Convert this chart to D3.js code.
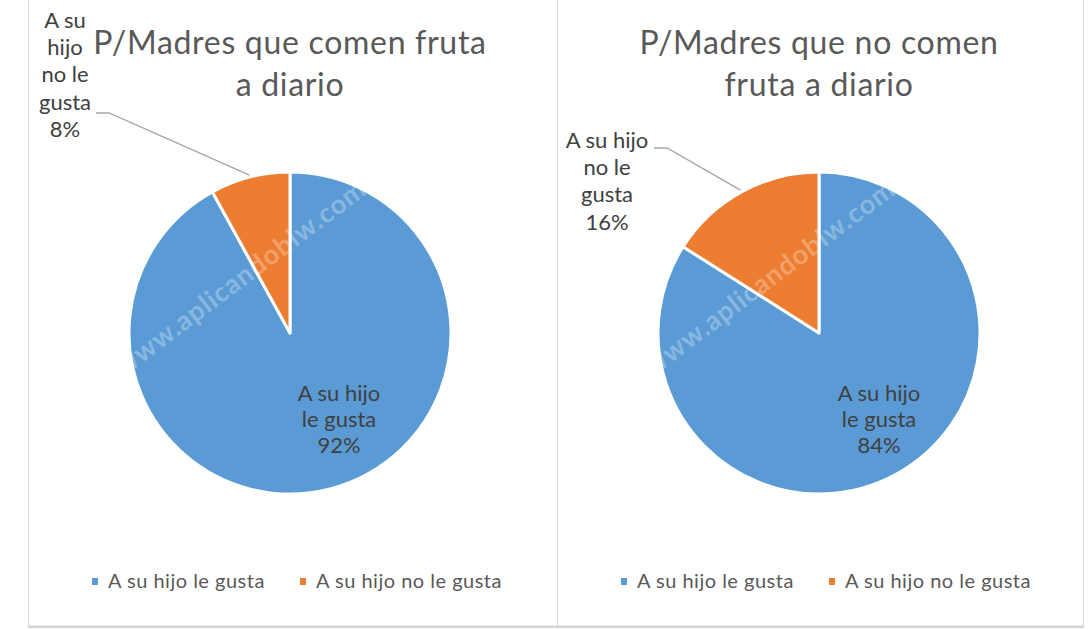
<!DOCTYPE html>
<html>
<head>
<meta charset="utf-8">
<script src="https://cdn.jsdelivr.net/npm/d3@7"></script>
<style>
  body { margin: 0; background: #fff; }
  text { font-family: Lato, "Open Sans", sans-serif; }
</style>
</head>
<body>
<div id="chart"></div>
<script>
// data
var categories = ["A su hijo le gusta", "A su hijo no le gusta"];
var titles = [
    ["P/Madres que comen fruta", "a diario"],
    ["P/Madres que no comen", "fruta a diario"]
];
var valuesComen = [92, 8];
var valuesNoComen = [84, 16];
var colors = ["#5b9bd5", "#ed7d31"];

function program() {
    var width = 1088,
        height = 630;

    var svg = d3.select("#chart")
        .append("svg")
        .attr("width", width)
        .attr("height", height);

    var panels = [
        { x: 28, w: 529, values: valuesComen, title: titles[0],
          cx: 290, inLabel: [49, 68], outLabel: [65, 28], outLines: ["A su", "hijo", "no le", "gusta"], elbow: [96, 113] },
        { x: 557, w: 526, values: valuesNoComen, title: titles[1],
          cx: 819, inLabel: [60, 68], outLabel: [607, 148], outLines: ["A su hijo", "no le", "gusta"], elbow: [654, 148] }
    ];
    var cy = 333, r = 161;

    var pie = d3.pie().sort(null).value(function(d){ return d; });
    var arc = d3.arc().innerRadius(0).outerRadius(r);
    var edge = d3.arc().innerRadius(r + 2).outerRadius(r + 2);

    panels.forEach(function(p) {
        var g = svg.append("g");

        g.append("rect")
            .attr("x", p.x + 0.5).attr("y", -2)
            .attr("width", p.w).attr("height", 628)
            .attr("fill", "none").attr("stroke", "#d9d9d9");
        g.append("line")
            .attr("x1", p.x).attr("x2", p.x + p.w + 1)
            .attr("y1", 627).attr("y2", 627)
            .attr("stroke", "#d4d4d4").attr("stroke-width", 2);

        // title
        g.selectAll(".title")
            .data(p.title)
            .join("text")
            .attr("x", p.cx)
            .attr("y", function(d, i){ return 54 + i * 42; })
            .attr("text-anchor", "middle")
            .attr("font-size", 32)
            .attr("letter-spacing", 0.7)
            .attr("fill", "#595959")
            .text(function(d){ return d; });

        var arcs = pie(p.values);
        var pg = g.append("g").attr("transform", "translate(" + p.cx + "," + cy + ")");

        pg.selectAll("path")
            .data(arcs)
            .join("path")
            .attr("d", arc)
            .attr("fill", function(d, i){ return colors[i]; })
            .attr("stroke", "#fff")
            .attr("stroke-width", 3)
            .attr("stroke-linejoin", "round");

        // watermark
        pg.append("text")
            .attr("transform", "translate(-44,-48) rotate(-37)")
            .attr("text-anchor", "middle")
            .attr("font-size", 27)
            .attr("letter-spacing", 1)
            .attr("font-weight", "bold")
            .attr("fill", "#fff")
            .attr("fill-opacity", 0.28)
            .text("www.aplicandoblw.com");

        // inside label (big slice)
        var inLines = ["A su hijo", "le gusta", p.values[0] + "%"];
        pg.selectAll(".inlab")
            .data(inLines)
            .join("text")
            .attr("x", p.inLabel[0])
            .attr("y", function(d, i){ return p.inLabel[1] + i * 26; })
            .attr("text-anchor", "middle")
            .attr("font-size", 22)
            .attr("fill", "#404040")
            .text(function(d){ return d; });

        // leader line for small slice
        var tip = edge.centroid(arcs[1]);
        g.append("polyline")
            .attr("points", [
                [p.elbow[0], p.elbow[1]],
                [p.elbow[0] + 13, p.elbow[1]],
                [p.cx + tip[0], cy + tip[1]]
            ].join(" "))
            .attr("fill", "none")
            .attr("stroke", "#a6a6a6")
            .attr("stroke-width", 1.3);

        var outLines = p.outLines.concat([p.values[1] + "%"]);
        g.selectAll(".outlab")
            .data(outLines)
            .join("text")
            .attr("x", p.outLabel[0])
            .attr("y", function(d, i){ return p.outLabel[1] + i * 27.2; })
            .attr("text-anchor", "middle")
            .attr("font-size", 22)
            .attr("fill", "#404040")
            .text(function(d){ return d; });

        // legend
        var legX = [p.cx - 198, p.cx + 10];
        var leg = g.selectAll(".leg")
            .data(categories)
            .join("g")
            .attr("transform", function(d, i){ return "translate(" + legX[i] + ",588)"; });
        leg.append("rect")
            .attr("x", 0).attr("y", -10)
            .attr("width", 6).attr("height", 7)
            .attr("fill", function(d, i){ return colors[i]; });
        leg.append("text")
            .attr("x", 16).attr("y", 0)
            .attr("font-size", 20)
            .attr("letter-spacing", 0.5)
            .attr("fill", "#595959")
            .text(function(d){ return d; });
    });
}

program();
</script>
</body>
</html>
